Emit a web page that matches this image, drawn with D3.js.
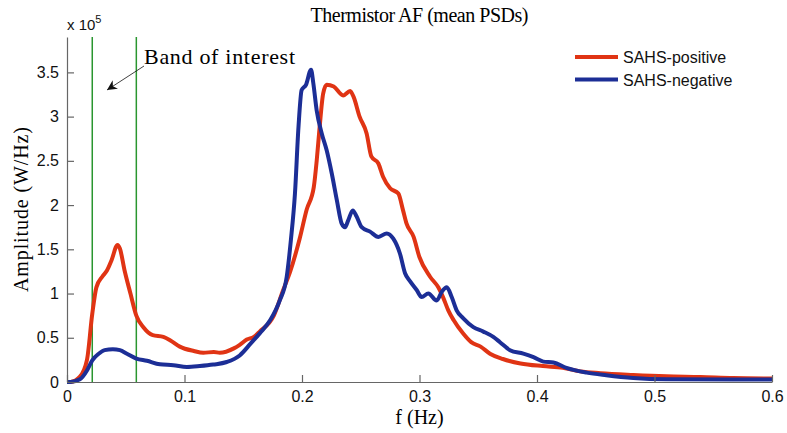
<!DOCTYPE html>
<html>
<head>
<meta charset="utf-8">
<script src="https://cdn.jsdelivr.net/npm/d3@7"></script>
<style>
  body { margin: 0; background: #fff; }
  svg { display: block; }
</style>
</head>
<body>
<div id="chart"></div>
<script>
// frequency (Hz) and mean PSD (x 10^5 W/Hz)
var posFreq = [0, 0.003, 0.011, 0.017, 0.0215, 0.025, 0.030, 0.034, 0.038, 0.043, 0.045, 0.049, 0.054, 0.059,
  0.065, 0.073, 0.082, 0.088, 0.096, 0.108, 0.116, 0.125, 0.130, 0.142, 0.147, 0.153, 0.159, 0.164, 0.176,
  0.184, 0.190, 0.198, 0.204, 0.210, 0.2125, 0.215, 0.218, 0.221, 0.227, 0.235, 0.241, 0.244, 0.249, 0.255,
  0.259, 0.265, 0.269, 0.275, 0.282, 0.286, 0.289, 0.295, 0.300, 0.309, 0.316, 0.320, 0.3245, 0.329, 0.337,
  0.344, 0.352, 0.360, 0.371, 0.386, 0.405, 0.422, 0.437, 0.454, 0.482, 0.510, 0.539, 0.567, 0.600];
var posAmp = [0, 0.0, 0.06, 0.25, 0.77, 1.07, 1.19, 1.26, 1.38, 1.55, 1.51, 1.26, 1.00, 0.75,
  0.62, 0.53, 0.51, 0.47, 0.40, 0.35, 0.33, 0.34, 0.33, 0.38, 0.42, 0.48, 0.51, 0.57, 0.75,
  1.04, 1.25, 1.62, 1.95, 2.20, 2.50, 2.88, 3.26, 3.36, 3.34, 3.24, 3.29, 3.22, 3.00, 2.81,
  2.55, 2.47, 2.32, 2.19, 2.13, 1.94, 1.79, 1.64, 1.41, 1.19, 1.07, 0.96, 0.81, 0.70, 0.55,
  0.45, 0.40, 0.32, 0.26, 0.21, 0.18, 0.16, 0.12, 0.10, 0.08, 0.065, 0.057, 0.045, 0.04];

var negFreq = [0, 0.003, 0.011, 0.017, 0.0215, 0.027, 0.032, 0.039, 0.045, 0.051, 0.059, 0.068, 0.079,
  0.0905, 0.102, 0.113, 0.1245, 0.136, 0.147, 0.156, 0.164, 0.173, 0.181, 0.187, 0.1905, 0.194, 0.197,
  0.1997, 0.2034, 0.2077, 0.2096, 0.2125, 0.2168, 0.221, 0.2253, 0.2296, 0.2338, 0.2366, 0.2394, 0.2432,
  0.2465, 0.2508, 0.2579, 0.265, 0.2721, 0.2777, 0.2834, 0.2877, 0.2919, 0.2976, 0.3019, 0.3075, 0.3146,
  0.319, 0.3232, 0.3274, 0.3316, 0.3373, 0.3458, 0.3543, 0.3628, 0.3685, 0.377, 0.3884, 0.397, 0.4054,
  0.414, 0.425, 0.4423, 0.459, 0.482, 0.510, 0.567, 0.600];
var negAmp = [0, 0.0, 0.03, 0.13, 0.245, 0.32, 0.36, 0.37, 0.36, 0.32, 0.265, 0.24, 0.20,
  0.19, 0.17, 0.18, 0.197, 0.226, 0.30, 0.43, 0.55, 0.70, 0.92, 1.19, 1.60, 2.13, 2.88,
  3.30, 3.36, 3.53, 3.38, 3.07, 2.81, 2.62, 2.36, 2.06, 1.79, 1.75, 1.83, 1.94,
  1.87, 1.75, 1.70, 1.64, 1.68, 1.62, 1.45, 1.23, 1.14, 1.04, 0.96, 1.00, 0.92,
  1.02, 1.07, 0.96, 0.81, 0.72, 0.62, 0.57, 0.51, 0.45, 0.36, 0.32, 0.28, 0.23,
  0.22, 0.16, 0.106, 0.076, 0.045, 0.03, 0.027, 0.027];

var seriesNames = ["SAHS-positive", "SAHS-negative"];
var seriesColors = ["#e03414", "#1c2e96"];
var bandEdges = [0.0215, 0.059];
var xTicks = [0, 0.1, 0.2, 0.3, 0.4, 0.5, 0.6];
var yTicks = [0, 0.5, 1, 1.5, 2, 2.5, 3, 3.5];

var svgWidth = 787;
var svgHeight = 433;
var margin = {top: 37, right: 15, bottom: 51, left: 67};
var width = svgWidth - margin.left - margin.right;
var height = svgHeight - margin.top - margin.bottom;

var svg = d3.select("#chart")
  .append("svg")
  .attr("width", svgWidth)
  .attr("height", svgHeight);

var chartMain = svg.append("g")
  .attr("transform", `translate(${margin.left}, ${margin.top})`);

var xScale = d3.scaleLinear().domain([0, 0.6]).range([0, width]);
var yScale = d3.scaleLinear().domain([0, 3.9]).range([height, 0]);

var series = [
  posFreq.map((f, i) => ({f: f, v: posAmp[i]})),
  negFreq.map((f, i) => ({f: f, v: negAmp[i]}))
];

// band of interest markers
chartMain.selectAll("line.band")
  .data(bandEdges)
  .enter()
  .append("line")
  .attr("class", "band")
  .attr("x1", d => xScale(d))
  .attr("x2", d => xScale(d))
  .attr("y1", 0)
  .attr("y2", height)
  .attr("stroke", "#2a9630")
  .attr("stroke-width", 1.5);

var line = d3.line()
  .x(d => xScale(d.f))
  .y(d => yScale(d.v))
  .curve(d3.curveMonotoneX);

chartMain.selectAll("path.psd")
  .data(series)
  .enter()
  .append("path")
  .attr("class", "psd")
  .attr("d", line)
  .attr("fill", "none")
  .attr("stroke", (d, i) => seriesColors[i])
  .attr("stroke-width", 4)
  .attr("stroke-linejoin", "round");

// axes, ticks pointing inward
var bottomAxis = d3.axisBottom(xScale)
  .tickValues(xTicks)
  .tickFormat(d3.format("~g"))
  .tickSizeInner(-7)
  .tickSizeOuter(0)
  .tickPadding(9);
var leftAxis = d3.axisLeft(yScale)
  .tickValues(yTicks)
  .tickFormat(d3.format("~g"))
  .tickSizeInner(-7)
  .tickSizeOuter(0)
  .tickPadding(8);

var gx = chartMain.append("g")
  .attr("transform", `translate(0, ${height})`)
  .call(bottomAxis);
var gy = chartMain.append("g")
  .call(leftAxis);

[gx, gy].forEach(function(g) {
  g.selectAll("path, line").attr("stroke", "#666").attr("stroke-width", 1.2);
  g.selectAll("text")
    .attr("fill", "#111")
    .style("font-family", "'Liberation Sans', Arial, sans-serif")
    .style("font-size", "16px");
});

// exponent label
var expo = svg.append("text")
  .attr("x", margin.left)
  .attr("y", 30)
  .attr("fill", "#111")
  .style("font-family", "'Liberation Sans', Arial, sans-serif")
  .style("font-size", "15px")
  .text("x 10");
expo.append("tspan")
  .attr("dy", -7)
  .style("font-size", "11px")
  .text("5");

// title and axis labels
var serif = "'Liberation Serif', 'DejaVu Serif', serif";
svg.append("text")
  .attr("x", margin.left + width / 2)
  .attr("y", 22)
  .attr("text-anchor", "middle")
  .attr("textLength", 218)
  .attr("lengthAdjust", "spacing")
  .style("font-family", serif)
  .style("font-size", "20px")
  .text("Thermistor AF (mean PSDs)");

svg.append("text")
  .attr("x", margin.left + width / 2)
  .attr("y", 424)
  .attr("text-anchor", "middle")
  .style("font-family", serif)
  .style("font-size", "20px")
  .text("f (Hz)");

svg.append("text")
  .attr("transform", `translate(28, ${margin.top + height / 2}) rotate(-90)`)
  .attr("text-anchor", "middle")
  .attr("textLength", 165)
  .attr("lengthAdjust", "spacing")
  .style("font-family", serif)
  .style("font-size", "20px")
  .text("Amplitude (W/Hz)");

// band of interest annotation
svg.append("defs").append("marker")
  .attr("id", "arrow")
  .attr("viewBox", "0 0 10 10")
  .attr("refX", 10)
  .attr("refY", 5)
  .attr("markerWidth", 10)
  .attr("markerHeight", 10)
  .attr("markerUnits", "userSpaceOnUse")
  .attr("orient", "auto")
  .append("path")
  .attr("d", "M0,0 L10,5 L0,10 L3,5 Z")
  .attr("fill", "#111");

svg.append("line")
  .attr("x1", 144)
  .attr("y1", 66)
  .attr("x2", 107)
  .attr("y2", 90)
  .attr("stroke", "#111")
  .attr("stroke-width", 0.8)
  .attr("marker-end", "url(#arrow)");

svg.append("text")
  .attr("x", 144)
  .attr("y", 64)
  .attr("textLength", 151)
  .attr("lengthAdjust", "spacing")
  .style("font-family", serif)
  .style("font-size", "22px")
  .text("Band of interest");

// legend
var legend = svg.append("g")
  .attr("transform", "translate(575, 57)");
var legendItems = legend.selectAll("g")
  .data(seriesNames)
  .enter()
  .append("g")
  .attr("transform", (d, i) => `translate(0, ${i * 22.5})`);
legendItems.append("line")
  .attr("x1", 0)
  .attr("x2", 43)
  .attr("stroke", (d, i) => seriesColors[i])
  .attr("stroke-width", 4);
legendItems.append("text")
  .attr("x", 48)
  .attr("y", 6)
  .attr("fill", "#111")
  .style("font-family", "'Liberation Sans', Arial, sans-serif")
  .style("font-size", "16px")
  .text(d => d);
</script>
</body>
</html>
